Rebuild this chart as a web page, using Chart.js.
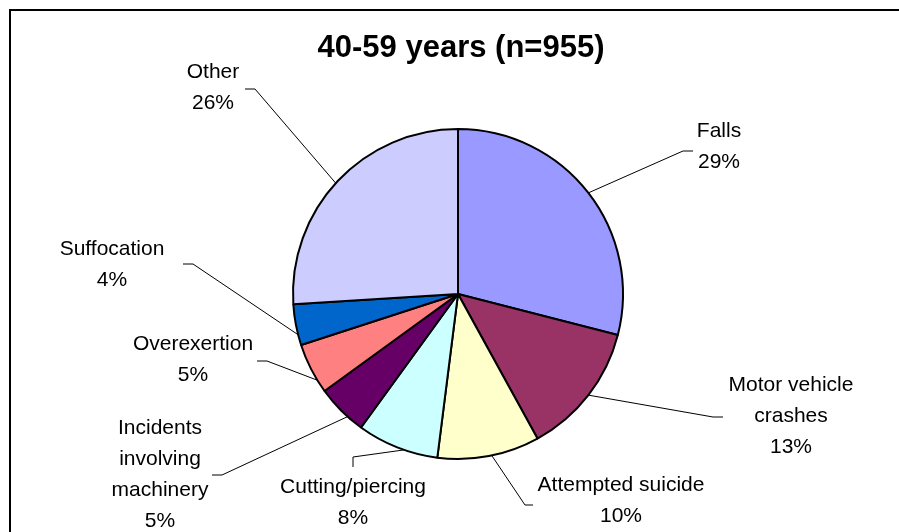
<!DOCTYPE html>
<html>
<head>
<meta charset="utf-8">
<script src="https://cdn.jsdelivr.net/npm/chart.js@4/dist/chart.umd.min.js"></script>
<style>
  html, body { margin: 0; padding: 0; background: #fff; overflow: hidden; }
  #wrap { position: relative; width: 899px; height: 532px; }
</style>
</head>
<body>
<div id="wrap"><canvas id="c" width="899" height="532"></canvas></div>
<script>
const chartTitle = '40-59 years (n=955)';
const categories = ['Falls', 'Motor vehicle crashes', 'Attempted suicide', 'Cutting/piercing',
  'Incidents involving machinery', 'Overexertion', 'Suffocation', 'Other'];
const shares = [29, 13, 10, 8, 5, 5, 4, 26];
const sliceColors = ['#9999FF', '#993366', '#FFFFCC', '#CCFFFF', '#660066', '#FF8080', '#0066CC', '#CCCCFF'];
// how each category name wraps in its label
const labelLines = [['Falls'], ['Motor vehicle', 'crashes'], ['Attempted suicide'], ['Cutting/piercing'],
  ['Incidents', 'involving', 'machinery'], ['Overexertion'], ['Suffocation'], ['Other']];

// label placement: text centre x, first line y, outer leader points, and a small
// angular shift (degrees, clockwise) of where the leader meets the pie rim
const labelLayout = [
  { x: 719, y: 131, path: [[693, 151], [683, 151]], shift: 0 },
  { x: 791, y: 385, path: [[723, 417], [713, 417]], shift: 0 },
  { x: 621, y: 485, path: [[533, 505], [525, 505]], shift: -1 },
  { x: 353, y: 487, path: [[353, 467], [353, 457]], shift: -2.5 },
  { x: 160, y: 428, path: [[212, 475], [222, 475]], shift: -3 },
  { x: 193, y: 344, path: [[257, 361], [267, 361]], shift: -4.5 },
  { x: 112, y: 249, path: [[183, 264], [193, 264]], shift: -3.5 },
  { x: 213, y: 72,  path: [[245, 89], [255, 89]], shift: -1 }
];
const LINE_STEP = 31;

const decorations = {
  id: 'decorations',
  beforeDraw(chart) {
    const ctx = chart.ctx;
    ctx.save();
    ctx.fillStyle = '#ffffff';
    ctx.fillRect(0, 0, chart.width, chart.height);
    ctx.restore();
  },
  afterDraw(chart) {
    const ctx = chart.ctx;
    ctx.save();
    // frame
    ctx.strokeStyle = '#000';
    ctx.lineWidth = 2;
    ctx.strokeRect(10, 10, 1000, 1000);

    // title
    ctx.fillStyle = '#000';
    ctx.font = 'bold 31px "Liberation Sans", Arial, sans-serif';
    ctx.textAlign = 'center';
    ctx.textBaseline = 'middle';
    ctx.fillText(chartTitle, 461, 48);

    // labels with leader lines
    const meta = chart.getDatasetMeta(0);
    const total = shares.reduce((a, b) => a + b, 0);
    ctx.font = '21px "Liberation Sans", Arial, sans-serif';
    meta.data.forEach((arc, i) => {
      const p = arc.getProps(['x', 'y', 'startAngle', 'endAngle', 'outerRadius'], true);
      const lay = labelLayout[i];
      const mid = (p.startAngle + p.endAngle) / 2 + lay.shift * Math.PI / 180;
      const rx = p.x + Math.cos(mid) * p.outerRadius;
      const ry = p.y + Math.sin(mid) * p.outerRadius;
      ctx.beginPath();
      ctx.lineWidth = 1;
      ctx.strokeStyle = '#000';
      ctx.moveTo(lay.path[0][0], lay.path[0][1]);
      for (let k = 1; k < lay.path.length; k++) ctx.lineTo(lay.path[k][0], lay.path[k][1]);
      ctx.lineTo(rx, ry);
      ctx.stroke();

      const lines = labelLines[i].concat([Math.round(shares[i] / total * 100) + '%']);
      ctx.fillStyle = '#000';
      lines.forEach((t, j) => ctx.fillText(t, lay.x, lay.y + j * LINE_STEP));
    });
    ctx.restore();
  }
};

new Chart(document.getElementById('c'), {
  type: 'pie',
  data: {
    labels: categories,
    datasets: [{
      data: shares,
      backgroundColor: sliceColors,
      borderColor: '#000',
      borderWidth: 2
    }]
  },
  options: {
    responsive: false,
    animation: false,
    layout: { padding: { left: 292, right: 275, top: 128, bottom: 72 } },
    plugins: {
      legend: { display: false },
      tooltip: { enabled: false },
      title: { display: false }
    }
  },
  plugins: [decorations]
});
</script>
</body>
</html>
